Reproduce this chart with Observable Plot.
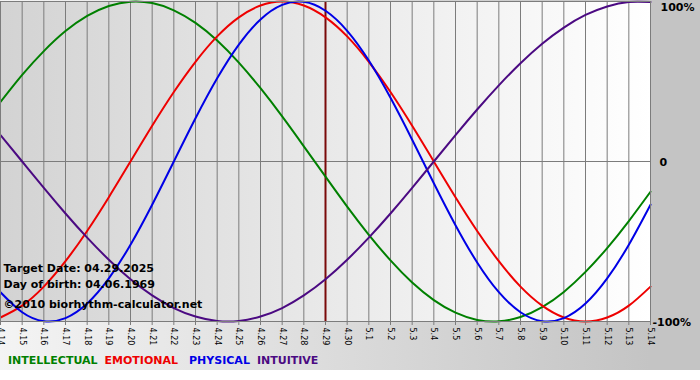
<!DOCTYPE html>
<html>
<head>
<meta charset="utf-8">
<script src="https://cdn.jsdelivr.net/npm/d3@7"></script>
<script src="https://cdn.jsdelivr.net/npm/@observablehq/plot@0.6"></script>
<style>
  html, body { margin: 0; padding: 0; background: #ffffff; }
  #wrap {
    position: relative; width: 700px; height: 370px; overflow: hidden;
    background: linear-gradient(to right, #f4f4f4 0px, #c4c4c4 650px, #c4c4c4 700px);
    font-family: "DejaVu Sans", Verdana, sans-serif;
  }
  #chart { position: absolute; left: 0; top: 0; }
  #legend {
    position: absolute; left: 8px; top: 354px; font-size: 11px; font-weight: bold;
    white-space: nowrap; line-height: 13px;
  }
  #legend span { margin-right: 7px; }
</style>
</head>
<body>
<div id="wrap"><div id="chart"></div><div id="legend"></div></div>
<script>
// ---- data ----
const dayLabels = ["4.14","4.15","4.16","4.17","4.18","4.19","4.20","4.21","4.22","4.23","4.24","4.25","4.26","4.27","4.28","4.29","4.30",
                   "5.1","5.2","5.3","5.4","5.5","5.6","5.7","5.8","5.9","5.10","5.11","5.12","5.13","5.14"];
const intellectual = [0.372,0.541,0.690,0.815,0.910,0.972,0.999,0.990,0.945,0.866,0.756,0.618,0.458,0.282,0.095,-0.095,
                      -0.282,-0.458,-0.618,-0.756,-0.866,-0.945,-0.990,-0.999,-0.972,-0.910,-0.815,-0.690,-0.541,-0.372,-0.189];
const emotional = [-0.975,-0.901,-0.782,-0.623,-0.434,-0.223,0,0.223,0.434,0.623,0.782,0.901,0.975,1,0.975,0.901,
                   0.782,0.623,0.434,0.223,0,-0.223,-0.434,-0.623,-0.782,-0.901,-0.975,-1,-0.975,-0.901,-0.782];
const physical = [-0.817,-0.942,-0.998,-0.979,-0.888,-0.731,-0.520,-0.270,0,0.270,0.520,0.731,0.888,0.979,0.998,0.942,
                  0.817,0.631,0.398,0.136,-0.136,-0.398,-0.631,-0.817,-0.942,-0.998,-0.979,-0.888,-0.731,-0.520,-0.270];
const intuitive = [0.165,0,-0.165,-0.325,-0.476,-0.614,-0.736,-0.837,-0.916,-0.969,-0.997,-0.997,-0.969,-0.916,-0.837,-0.736,
                   -0.614,-0.476,-0.325,-0.165,0,0.165,0.325,0.476,0.614,0.736,0.837,0.916,0.969,0.997,0.997];
const seriesNames = ["INTELLECTUAL","EMOTIONAL","PHYSICAL","INTUITIVE"];
const seriesColors = ["#008000","#ee0000","#0000e6","#4b0a82"];
const targetLabel = "4.29";
const targetDate = "04.29.2025";
const birthDate = "04.06.1969";
const copyright = "\u00A92010 biorhythm-calculator.net";

// ---- build table ----
const seriesValues = [intellectual, emotional, physical, intuitive];
const rows = seriesNames.flatMap((name, s) => seriesValues[s].map((v, i) => ({day: i, value: v, name})));
const days = d3.range(dayLabels.length);
const targetIndex = dayLabels.indexOf(targetLabel);
const font = "DejaVu Sans, Verdana, sans-serif";

const plot = Plot.plot({
  width: 700, height: 350,
  marginLeft: 0, marginRight: 50, marginTop: 1, marginBottom: 29,
  style: {background: "transparent", fontFamily: font, overflow: "visible"},
  x: {domain: [0, dayLabels.length - 1]},
  y: {domain: [-1, 1]},
  color: {domain: seriesNames, range: seriesColors},
  marks: [
    Plot.frame({fill: "url(#plotGrad)"}),
    Plot.ruleX(days, {stroke: "#7c7c7c", strokeWidth: 1}),
    Plot.ruleY([0], {stroke: "#7c7c7c", strokeWidth: 1}),
    Plot.ruleX([targetIndex], {stroke: "#7a0a0a", strokeWidth: 2}),
    Plot.line(rows, {x: "day", y: "value", z: "name", stroke: "name", strokeWidth: 2, curve: "natural"}),
    Plot.frame({stroke: "#7c7c7c"}),
    Plot.axisX(days, {tickFormat: i => dayLabels[i], tickRotate: 90, tickSize: 4, tickPadding: 2,
      fontSize: 8, stroke: "#7c7c7c", fill: "black", label: null}),
    Plot.axisY([1], {anchor: "right", tickFormat: () => "100%", tickSize: 0, tickPadding: 10, dy: 6,
      fontSize: 11, fontWeight: "bold", fill: "black", label: null}),
    Plot.axisY([0], {anchor: "right", tickFormat: () => "0", tickSize: 0, tickPadding: 9, dy: 1,
      fontSize: 11, fontWeight: "bold", fill: "black", label: null}),
    Plot.axisY([-1], {anchor: "right", tickFormat: () => "-100%", tickSize: 0, tickPadding: 2, dy: 1,
      fontSize: 11, fontWeight: "bold", fill: "black", label: null}),
    Plot.text([`Target Date: ${targetDate}`], {text: d => d, frameAnchor: "bottom-left", textAnchor: "start",
      dx: 3, dy: -50, fontSize: 11, fontWeight: "bold", fill: "black"}),
    Plot.text([`Day of birth: ${birthDate}`], {text: d => d, frameAnchor: "bottom-left", textAnchor: "start",
      dx: 3, dy: -34, fontSize: 11, fontWeight: "bold", fill: "black"}),
    Plot.text([copyright], {text: d => d, frameAnchor: "bottom-left", textAnchor: "start",
      dx: 3, dy: -14, fontSize: 11, fontWeight: "bold", fill: "black"})
  ]
});

const ns = "http://www.w3.org/2000/svg";
const defs = document.createElementNS(ns, "defs");
defs.innerHTML = '<linearGradient id="plotGrad" x1="0" x2="1" y1="0" y2="0">' +
  '<stop offset="0" stop-color="#d3d3d3"/><stop offset="1" stop-color="#ffffff"/></linearGradient>';
plot.insertBefore(defs, plot.firstChild);
document.getElementById("chart").appendChild(plot);

const legend = document.getElementById("legend");
seriesNames.forEach((name, i) => {
  const s = document.createElement("span");
  s.textContent = name;
  s.style.color = seriesColors[i];
  if (i === 1) s.style.marginRight = "11px";
  legend.appendChild(s);
});
</script>
</body>
</html>
